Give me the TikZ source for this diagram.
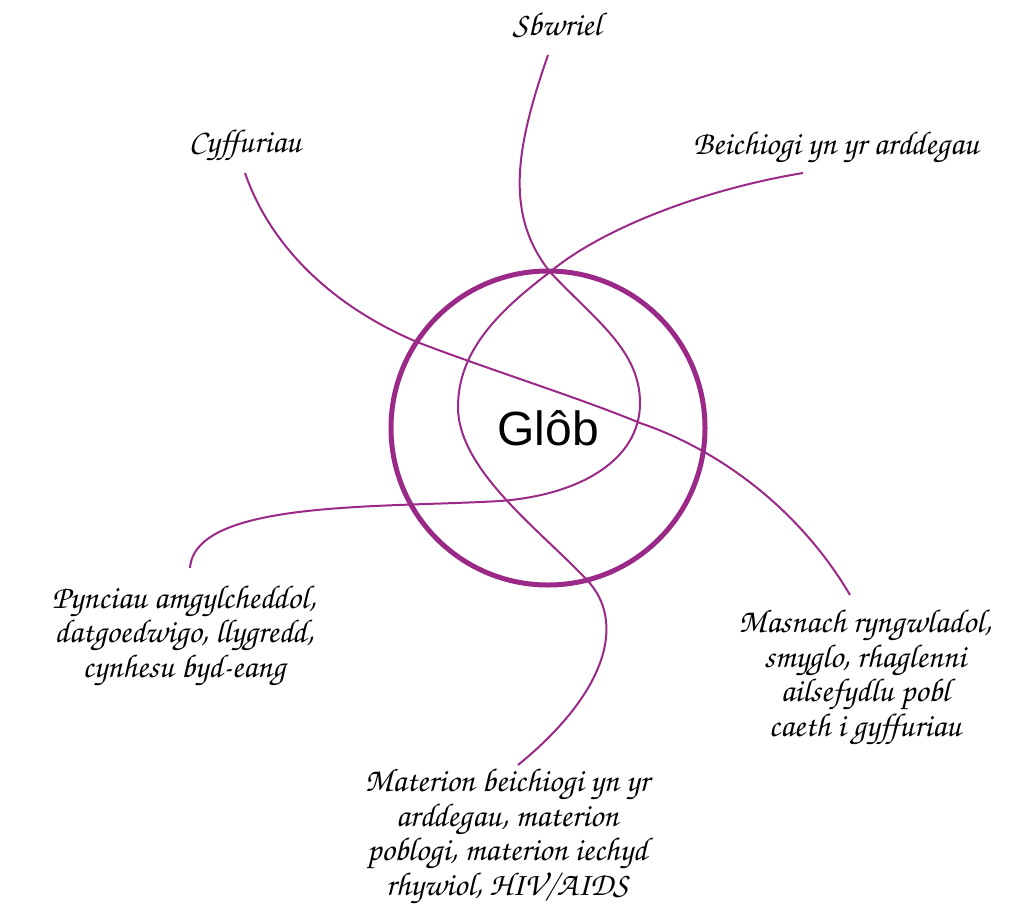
\documentclass[tikz,border=0pt]{standalone}
\usepackage[T1,TU]{fontenc}
\usepackage{fontspec}
\usepackage{xcolor}
\usepackage{tikz}
\usetikzlibrary{positioning}

\newfontfamily\globfont{Liberation Sans}
\newcommand{\handfont}{\fontencoding{T1}\fontfamily{pzc}\fontseries{mb}\fontshape{it}\selectfont}
\definecolor{globpurple}{RGB}{155,41,135}

\tikzset{
  topic/.style={font=\fontsize{33}{29.5}\handfont, align=center, inner sep=0pt},
  thread/.style={draw=globpurple, line width=2pt},
}

\begin{document}
\begin{tikzpicture}[x=1pt,y=-1pt]
        \useasboundingbox (0,0) rectangle (1032,905);
        % labels round the globe
        \node[topic] (sbwriel) at (557,25) {Sbwriel};
        \node[topic] (cyffuriau) at (245,146) {Cyffuriau};
        \node[topic] (beichiogi) at (836,148) {Beichiogi yn yr arddegau};
        \node[topic] (pynciau) at (184,636) {Pynciau amgylcheddol,\\datgoedwigo, llygredd,\\cynhesu byd-eang};
        \node[topic] (masnach) at (865,678) {Masnach ryngwladol,\\smyglo, rhaglenni\\ailsefydlu pobl\\caeth i gyffuriau};
        \node[topic] (materion) at (507,837) {Materion beichiogi yn yr\\arddegau, materion\\poblogi, materion iechyd\\rhywiol, HIV/AIDS};
        % the globe
        \node[circle, draw=globpurple, line width=5pt, minimum size=314pt, inner sep=0pt,
              font=\globfont\fontsize{48}{50}\selectfont] (glob) at (548,428) {Glôb};
        % ends of the threads
        \coordinate (sbwriel-end) at (548,55);
        \coordinate (cyffuriau-end) at (245,173);
        \coordinate (beichiogi-end) at (803,173);
        \coordinate (pynciau-end) at (190,568);
        \coordinate (masnach-end) at (850,595);
        \coordinate (materion-end) at (518,765);
        \coordinate (top-cross) at (550,272);
        % threads
        \draw[thread] (sbwriel-end) .. controls (515,150) and (505,215) .. (top-cross)
          .. controls (595,320) and (640,350) .. (640,403)
          .. controls (640,460) and (580,495) .. (500,501)
          .. controls (380,508) and (195,500) .. (pynciau-end);
        \draw[thread] (beichiogi-end) .. controls (700,190) and (600,230) .. (top-cross)
          .. controls (500,310) and (458,350) .. (458,407)
          .. controls (458,470) and (540,530) .. (587,580)
          .. controls (625,620) and (610,690) .. (materion-end);
        \draw[thread] (cyffuriau-end) .. controls (270,245) and (330,305) .. (417,342)
          .. controls (490,370) and (580,398) .. (640,423)
          .. controls (720,450) and (800,510) .. (masnach-end);
      \end{tikzpicture}
\end{document}
